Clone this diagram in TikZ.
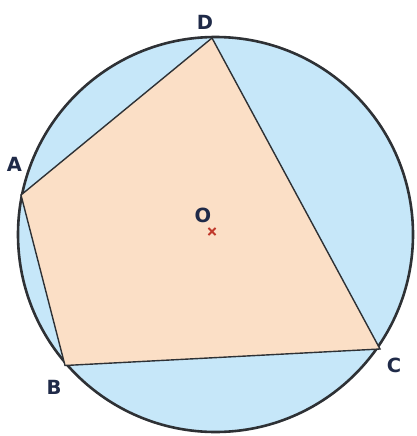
\documentclass[tikz,border=0pt]{standalone}
\usepackage{fontspec}
\setmainfont{DejaVu Sans}
\definecolor{circfill}{HTML}{C6E7F9}
\definecolor{quadfill}{HTML}{FBDFC6}
\definecolor{edgecol}{HTML}{2E3135}
\definecolor{labcol}{HTML}{1F2A48}
\definecolor{markcol}{HTML}{C0392B}
\tikzset{
  lab/.style={text=labcol, font=\fontsize{19.5}{19.5}\selectfont\bfseries, inner sep=0pt},
  vtx/.style={inner sep=0pt, minimum size=0pt},
}
\begin{document}
\begin{tikzpicture}[x=1pt,y=-1pt]
\useasboundingbox (0,0) rectangle (416,436);
\coordinate (O) at (215.5,234.5);
\draw[fill=circfill, draw=edgecol, line width=2.6pt] (O) circle (197.5);
\coordinate (D) at (212,38);
\coordinate (A) at (21,195);
\coordinate (B) at (65,365.5);
\coordinate (C) at (380,349);
\draw[fill=quadfill, draw=edgecol, line width=1.4pt, line join=miter] (D) -- (A) -- (B) -- (C) -- cycle;
\node[lab] (lD) at (205,22) {D};
\node[lab] (lA) at (14.5,164) {A};
\node[lab] (lB) at (54,387) {B};
\node[lab] (lC) at (394,365.5) {C};
\node[lab] (lO) at (203,215.5) {O};
\node[vtx] (xm) at (212,231.5) {};
\draw[markcol, line width=1.8pt] ([shift={(-3.6,-3.6)}]xm.center) -- ([shift={(3.6,3.6)}]xm.center)
  ([shift={(-3.6,3.6)}]xm.center) -- ([shift={(3.6,-3.6)}]xm.center);
\end{tikzpicture}
\end{document}
